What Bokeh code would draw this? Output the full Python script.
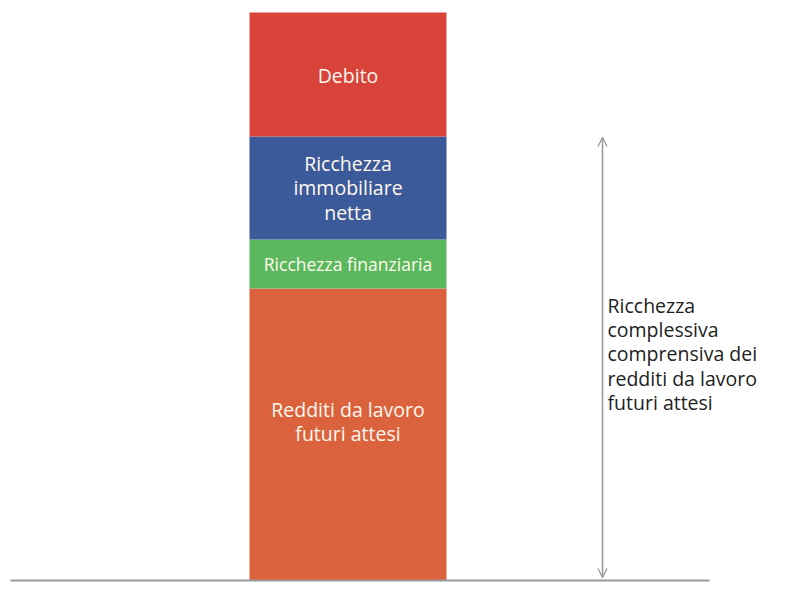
from bokeh.plotting import figure
from bokeh.models import Range1d, ColumnDataSource, Arrow, OpenHead
from bokeh.core.properties import value
from bokeh.embed import file_html
from bokeh.resources import INLINE

# ---- data ----
categories = ["Redditi da lavoro\nfuturi attesi", "Ricchezza finanziaria",
              "Ricchezza\nimmobiliare\nnetta", "Debito"]
values = [292, 49, 103, 124]
colors = ["#DA633D", "#5CB85E", "#3B5A9A", "#D8433A"]
label_sizes = ["19.5px", "17.5px", "19.5px", "19.5px"]
label_offsets = [13, 0, 0, -1]   # vertical nudge of each label (px)
total_label = "Ricchezza\ncomplessiva\ncomprensiva dei\nredditi da lavoro\nfuturi attesi"

# ---- geometry (1 unit = 197 px horizontally, 1 px vertically) ----
BW = 197.0
CX = 347.5
def X(px):
    return (px - CX) / BW

W, H = 800, 584

bottoms, tops = [], []
acc = 0
for v in values:
    bottoms.append(acc)
    acc += v
    tops.append(acc)

p = figure(width=W, height=H, output_backend="svg", toolbar_location=None,
           x_range=Range1d(X(0), X(W)), y_range=Range1d(580 - H, 580),
           min_border=0, min_border_left=0, min_border_right=0,
           min_border_top=0, min_border_bottom=0)
p.axis.visible = False
p.grid.visible = False
p.outline_line_color = None
p.background_fill_color = "white"
p.border_fill_color = "white"

src = ColumnDataSource(dict(x=[0] * len(values), bottom=bottoms, top=tops, color=colors))
p.vbar(x="x", width=1.0, bottom="bottom", top="top", fill_color="color",
       line_color=None, source=src)

LH = 0.905  # ~24px line spacing

# labels
for cat, b, t, fs, off in zip(categories, bottoms, tops, label_sizes, label_offsets):
    mid = (b + t) / 2 + off
    p.text(x=[0], y=[mid], text=[cat], text_align="center", text_baseline="middle",
           text_color="#FFF8EE", text_font_size=fs, text_font=value("Open Sans"),
           text_line_height=LH)

# baseline
p.segment(x0=[X(10)], y0=[0], x1=[X(709)], y1=[0], line_color="#9A9A9A", line_width=2)

# double arrow for total wealth (without debt)
total = sum(values[:3])
ax = X(602)
p.add_layout(Arrow(x_start=ax, y_start=total - 1, x_end=ax, y_end=3,
                   line_color="#999999", line_width=1.3,
                   end=OpenHead(size=9, line_color="#999999", line_width=1.3)))
p.add_layout(Arrow(x_start=ax, y_start=3, x_end=ax, y_end=total - 1,
                   line_color="#999999", line_width=1.3,
                   end=OpenHead(size=9, line_color="#999999", line_width=1.3)))

p.text(x=[X(607)], y=[289], text=[total_label], text_align="left", text_baseline="top",
       text_color="#222222", text_font_size="19.5px", text_font=value("Open Sans"),
       text_line_height=LH)

open("out.html", "w").write(file_html(p, INLINE))
